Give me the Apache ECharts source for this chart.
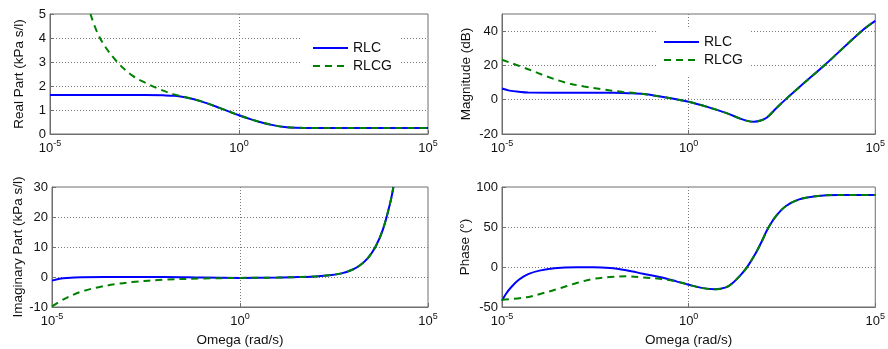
<!DOCTYPE html>
<html>
<head>
<meta charset="utf-8">
<script src="https://cdn.jsdelivr.net/npm/echarts@6/dist/echarts.min.js"></script>
<style>
  html, body { margin: 0; padding: 0; background: #fff; }
  #chart { width: 888px; height: 349px; }
</style>
</head>
<body>
<div id="chart"></div>
<script>
// Frequencies are stored as decade exponents: omega = 10^e (rad/s)

// Real part (kPa s/l)
const reLogW_RLC  = [-5, -4, -3, -2.5, -2, -1.7, -1.4, -1.0, -0.5, 0, 0.3, 0.6, 0.9, 1.2, 1.5, 2, 3, 4, 5];
const re_RLC      = [1.62, 1.62, 1.62, 1.62, 1.61, 1.59, 1.52, 1.36, 1.08, 0.78, 0.62, 0.48, 0.37, 0.29, 0.26, 0.25, 0.25, 0.25, 0.25];
const reLogW_RLCG = [-3.93, -3.68, -3.24, -2.8, -2.44, -2.09, -1.74, -1.4, -1.0, -0.5, 0, 0.3, 0.6, 0.9, 1.2, 1.5, 2, 3, 4, 5];
const re_RLCG     = [5.0, 4.0, 3.03, 2.41, 2.11, 1.86, 1.66, 1.53, 1.36, 1.08, 0.78, 0.62, 0.48, 0.37, 0.29, 0.26, 0.25, 0.25, 0.25, 0.25];

// Magnitude (dB)
const magLogW_RLC  = [-5, -4.8, -4.5, -4.3, -3, -2, -1.6, -1.2, -0.8, -0.4, 0, 0.5, 1.0, 1.4, 1.6, 1.75, 1.95, 2.1, 2.3, 2.45, 2.6, 3, 3.66, 4.63, 5];
const mag_RLC      = [6.5, 5.3, 4.5, 4.2, 4.1, 4.0, 3.8, 3.3, 2.0, 0.5, -1.2, -4.2, -7.7, -11.2, -12.5, -12.9, -12.0, -10.4, -6.0, -2.8, 0.2, 8.0, 20.5, 40, 46];
const magLogW_RLCG = [-5, -4.3, -3.8, -3.3, -2.8, -2.3, -1.8, -1.5, -1.2, -0.8, -0.4, 0, 0.5, 1.0, 1.4, 1.6, 1.75, 1.95, 2.1, 2.3, 2.45, 2.6, 3, 3.66, 4.63, 5];
const mag_RLCG     = [23.3, 17.8, 13.6, 10.0, 7.7, 6.0, 4.6, 4.0, 3.3, 2.0, 0.5, -1.2, -4.2, -7.7, -11.2, -12.5, -12.9, -12.0, -10.4, -6.0, -2.8, 0.2, 8.0, 20.5, 40, 46];

// Imaginary part (kPa s/l)
const imLogW_RLC  = [-5, -4.8, -4.6, -4.2, -3, -2, -1, 0, 1, 1.6, 2.0, 2.3, 2.7, 3.0, 3.2, 3.4, 3.6, 3.8, 4.0, 4.08];
const im_RLC      = [-1.2, -0.6, -0.3, -0.1, 0, 0, -0.2, -0.3, -0.2, 0, 0.2, 0.5, 1.2, 2.5, 4.0, 6.3, 10.0, 15.8, 25, 30];
const imLogW_RLCG = [-5, -4.64, -4.2, -3.76, -3.31, -2.87, -2, -1, 0, 1, 1.6, 2.0, 2.3, 2.7, 3.0, 3.2, 3.4, 3.6, 3.8, 4.0, 4.08];
const im_RLCG     = [-9.8, -7.1, -4.8, -3.4, -2.4, -1.7, -0.9, -0.5, -0.3, -0.2, 0, 0.2, 0.5, 1.2, 2.5, 4.0, 6.3, 10.0, 15.8, 25, 30];

// Phase (degrees)
const phLogW_RLC  = [-5, -4.9, -4.75, -4.55, -4.3, -4.0, -3.6, -3, -2.56, -2.11, -1.67, -1.22, -0.78, -0.33, 0, 0.38, 0.7, 1.0, 1.18, 1.44, 1.58, 1.8, 1.98, 2.11, 2.33, 2.6, 2.96, 3.4, 4, 5];
const ph_RLC      = [-42, -34, -25, -16, -9, -4.5, -1.5, -0.4, -0.4, -1.3, -4.2, -8.4, -12.6, -18, -22.2, -26.4, -27.8, -25.5, -20, -7.5, 0.8, 17.6, 34, 47, 63, 76, 84.5, 88.5, 90, 90];
const phLogW_RLCG = [-5, -4.33, -3.89, -3.44, -3, -2.56, -2.11, -1.67, -1.22, -0.78, -0.33, 0, 0.38, 0.7, 1.0, 1.18, 1.44, 1.58, 1.8, 1.98, 2.11, 2.33, 2.6, 2.96, 3.4, 4, 5];
const ph_RLCG     = [-41, -37.7, -32.6, -26.4, -20, -15, -12.6, -11.7, -13, -14.8, -18, -22.2, -26.4, -27.8, -25.5, -20, -7.5, 0.8, 17.6, 34, 47, 63, 76, 84.5, 88.5, 90, 90];

// Axis ticks
const xTickExponents = [-5, 0, 5];
const reTicks  = { min: 0,   max: 5,   interval: 1 };
const magTicks = { min: -20, max: 50,  interval: 20 };
const imTicks  = { min: -10, max: 30,  interval: 10 };
const phTicks  = { min: -50, max: 100, interval: 50 };

const FONT = '"Liberation Sans", Arial, sans-serif';
const BORDER = '#6e6e6e';
const GRID_LINE = '#7a7a7a';
const BLUE = '#0000ff';
const GREEN = '#008000';

function pairs(logW, vals) {
  return logW.map((e, i) => [Math.pow(10, e), vals[i]]);
}

const grids = [
  { left: 50,  top: 14,  width: 378, height: 120 },
  { left: 502, top: 14,  width: 375, height: 120 },
  { left: 52,  top: 187, width: 376, height: 120 },
  { left: 502, top: 187, width: 375, height: 120 }
].map(g => Object.assign({ show: true, borderColor: BORDER, borderWidth: 1, backgroundColor: '#fff' }, g));

function xAxis(gridIndex, withName) {
  return {
    type: 'log',
    logBase: 10,
    gridIndex,
    min: Math.pow(10, xTickExponents[0]),
    max: Math.pow(10, xTickExponents[xTickExponents.length - 1]),
    interval: xTickExponents[1] - xTickExponents[0],
    name: withName ? 'Omega (rad/s)' : '',
    nameLocation: 'middle',
    nameGap: 26,
    nameTextStyle: { fontFamily: FONT, fontSize: 13.5, color: '#111' },
    axisLine: { show: true, onZero: false, lineStyle: { color: BORDER } },
    axisTick: { show: true, inside: true, length: 4, lineStyle: { color: BORDER } },
    minorTick: { show: false },
    axisLabel: {
      margin: 5,
      color: '#111',
      fontFamily: FONT,
      fontSize: 13,
      formatter: v => '10{sup|' + Math.round(Math.log10(v)) + '}',
      rich: {
        sup: { fontSize: 9, fontFamily: FONT, color: '#111', padding: [0, 0, 9, 0] }
      }
    },
    splitLine: {
      show: true, showMinLine: false, showMaxLine: false,
      lineStyle: { color: GRID_LINE, type: [1, 2], width: 1 }
    }
  };
}

function yAxis(gridIndex, name, ticks, nameGap) {
  return {
    type: 'value',
    gridIndex,
    min: ticks.min,
    max: ticks.max,
    interval: ticks.interval,
    name,
    nameLocation: 'middle',
    nameRotate: 90,
    nameGap,
    nameTextStyle: { fontFamily: FONT, fontSize: 13.5, color: '#111' },
    axisLine: { show: true, onZero: false, lineStyle: { color: BORDER } },
    axisTick: { show: true, inside: true, length: 4, lineStyle: { color: BORDER } },
    axisLabel: {
      margin: 4, color: '#111', fontFamily: FONT, fontSize: 13,
      showMaxLabel: (ticks.max - ticks.min) % ticks.interval === 0
    },
    splitLine: {
      show: true, showMinLine: false, showMaxLine: false,
      lineStyle: { color: GRID_LINE, type: [1, 2], width: 1 }
    }
  };
}

function line(name, idx, data, dashed) {
  return {
    name,
    type: 'line',
    xAxisIndex: idx,
    yAxisIndex: idx,
    data,
    symbol: 'none',
    smooth: 0.35,
    clip: true,
    z: dashed ? 3 : 2,
    lineStyle: dashed
      ? { color: GREEN, width: 2, type: [7, 5] }
      : { color: BLUE, width: 2 },
    itemStyle: { color: dashed ? GREEN : BLUE }
  };
}

function legend(left, top, padding) {
  return {
    orient: 'vertical',
    left, top,
    padding,
    backgroundColor: '#fff',
    itemWidth: 35,
    itemHeight: 14,
    itemGap: 4,
    itemTextGap: 4,
    selectedMode: false,
    itemStyle: { opacity: 0 },
    textStyle: { fontFamily: FONT, fontSize: 14, color: '#111' },
    data: ['RLC', 'RLCG'],
    z: 10
  };
}

const chart = echarts.init(document.getElementById('chart'), null, { renderer: 'canvas' });
chart.setOption({
  animation: false,
  backgroundColor: '#fff',
  grid: grids,
  legend: [
    legend(302, 33, [8, 8, 8, 10]),
    legend(657, 27, [8, 8, 8, 6])
  ],
  xAxis: [xAxis(0, false), xAxis(1, false), xAxis(2, true), xAxis(3, true)],
  yAxis: [
    yAxis(0, 'Real Part (kPa s/l)', reTicks, 24),
    yAxis(1, 'Magnitude (dB)', magTicks, 29),
    yAxis(2, 'Imaginary Part (kPa s/l)', imTicks, 27),
    yAxis(3, 'Phase (°)', phTicks, 30)
  ],
  series: [
    line('RLC', 0, pairs(reLogW_RLC, re_RLC), false),
    line('RLCG', 0, pairs(reLogW_RLCG, re_RLCG), true),
    line('RLC', 1, pairs(magLogW_RLC, mag_RLC), false),
    line('RLCG', 1, pairs(magLogW_RLCG, mag_RLCG), true),
    line('RLC', 2, pairs(imLogW_RLC, im_RLC), false),
    line('RLCG', 2, pairs(imLogW_RLCG, im_RLCG), true),
    line('RLC', 3, pairs(phLogW_RLC, ph_RLC), false),
    line('RLCG', 3, pairs(phLogW_RLCG, ph_RLCG), true)
  ]
});
</script>
</body>
</html>
